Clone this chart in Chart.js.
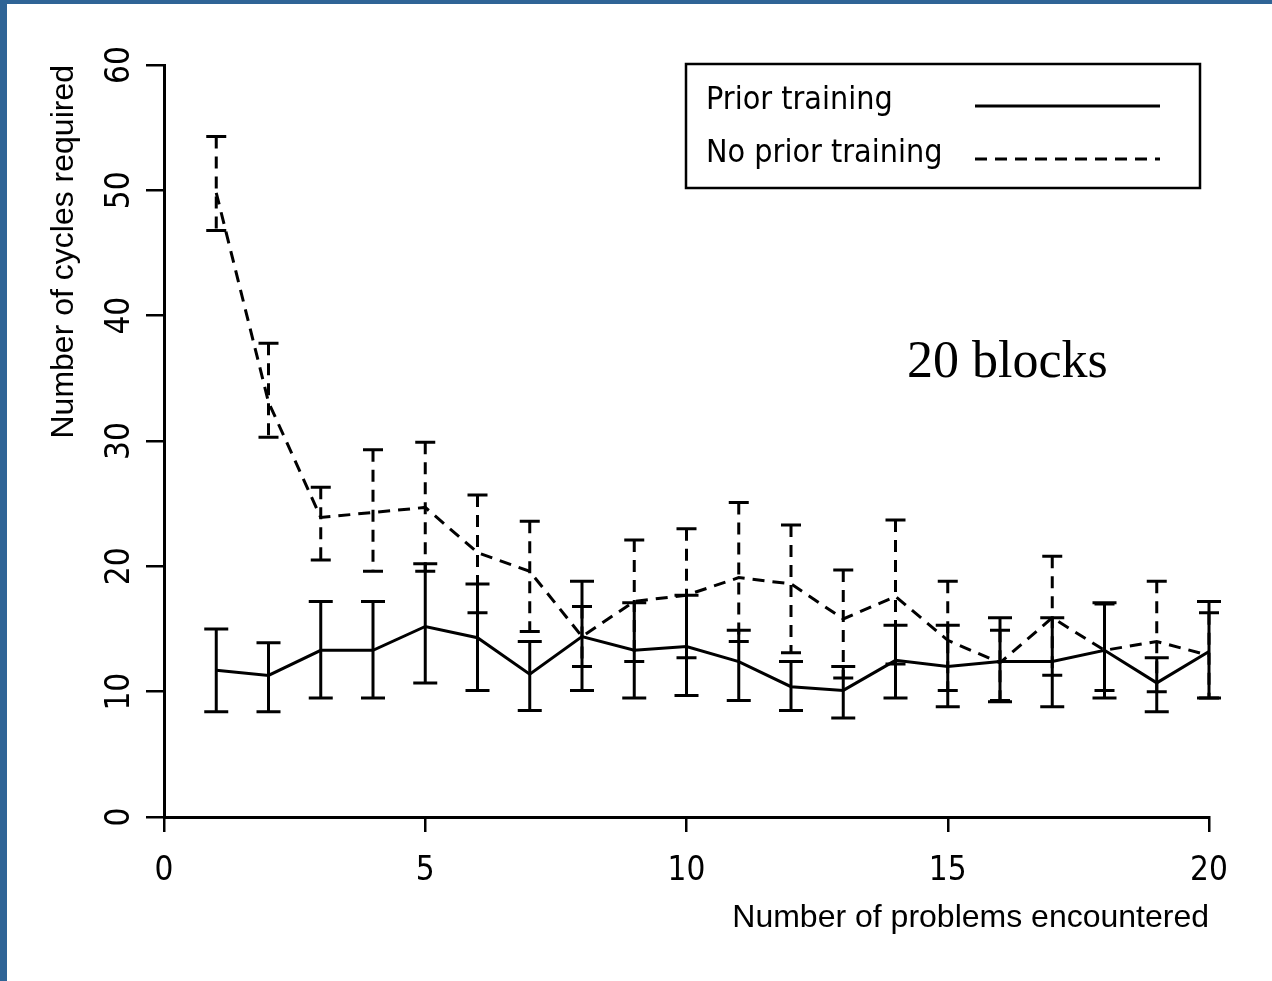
<!DOCTYPE html>
<html>
<head>
    <title>Number of cycles required</title>
    <script src="https://cdn.jsdelivr.net/npm/chart.js"></script>
    <style>
        html, body {
            margin: 0;
            padding: 0;
            background: #fff;
        }
        #chart-container {
            position: absolute;
            left: 0;
            top: 0;
            width: 1272px;
            height: 981px;
        }
        /* blue frame on the left and top edge */
        #frame {
            position: fixed;
            left: 0;
            top: 0;
            width: 1272px;
            height: 981px;
            box-sizing: border-box;
            border-left: 7px solid #2f6496;
            border-top: 4px solid #2f6496;
            pointer-events: none;
        }
    </style>
</head>
<body>
    <div id="chart-container">
        <canvas id="myChart"></canvas>
    </div>
    <div id="frame"></div>

    <script>
        // Number of problems encountered
        const problems = [1, 2, 3, 4, 5, 6, 7, 8, 9, 10, 11, 12, 13, 14, 15, 16, 17, 18, 19, 20];

        // Prior training: mean and error bar ends
        const priorMean = [11.7, 11.3, 13.3, 13.3, 15.2, 14.3, 11.4, 14.4, 13.3, 13.6, 12.4, 10.4, 10.1, 12.5, 12.0, 12.4, 12.4, 13.3, 10.7, 13.2];
        const priorLow  = [8.4, 8.4, 9.5, 9.5, 10.7, 10.1, 8.5, 10.1, 9.5, 9.7, 9.3, 8.5, 7.9, 9.5, 8.8, 9.2, 8.8, 9.5, 8.4, 9.5];
        const priorHigh = [15.0, 13.9, 17.2, 17.2, 20.2, 18.6, 14.0, 18.8, 17.1, 17.7, 14.9, 12.4, 12.0, 15.3, 15.3, 15.9, 15.9, 17.1, 12.7, 17.2];

        // No prior training: mean and error bar ends
        const noPriorMean = [49.8, 33.1, 23.9, 24.3, 24.7, 21.1, 19.6, 14.4, 17.2, 17.7, 19.1, 18.6, 15.8, 17.6, 14.1, 12.3, 15.9, 13.3, 14.0, 12.9];
        const noPriorLow  = [46.8, 30.3, 20.5, 19.6, 19.6, 16.3, 14.8, 12.0, 12.4, 12.7, 14.0, 13.1, 11.1, 12.2, 10.1, 9.3, 11.3, 10.1, 10.0, 9.5];
        const noPriorHigh = [54.3, 37.8, 26.3, 29.3, 29.9, 25.7, 23.6, 16.8, 22.1, 23.0, 25.1, 23.3, 19.7, 23.7, 18.8, 14.9, 20.8, 17.0, 18.8, 16.3];

        // Axis ticks
        const xTickValues = [0, 5, 10, 15, 20];
        const yTickValues = [0, 10, 20, 30, 40, 50, 60];

        const seriesNames = ['Prior training', 'No prior training'];
        const noteText = '20 blocks';

        const labelFont = "'Liberation Sans Narrow', 'DejaVu Sans Condensed', 'Liberation Sans', sans-serif";

        // Vertical error bars with caps, drawn from errLow / errHigh of each dataset
        const errorBars = {
            id: 'errorBars',
            afterDatasetsDraw(chart) {
                const { ctx, scales: { x, y } } = chart;
                chart.data.datasets.forEach((ds, i) => {
                    if (!chart.isDatasetVisible(i)) return;
                    ctx.save();
                    ctx.strokeStyle = ds.borderColor;
                    ctx.lineWidth = 3;
                    ds.data.forEach((pt, j) => {
                        const px = x.getPixelForValue(pt.x);
                        const top = y.getPixelForValue(ds.errHigh[j]);
                        const bot = y.getPixelForValue(ds.errLow[j]);
                        const half = ds.capHalf;
                        ctx.setLineDash(ds.borderDash || []);
                        ctx.beginPath();
                        ctx.moveTo(px, top);
                        ctx.lineTo(px, bot);
                        ctx.stroke();
                        ctx.setLineDash([]);
                        ctx.beginPath();
                        ctx.moveTo(px - half, top);
                        ctx.lineTo(px + half, top);
                        ctx.moveTo(px - half, bot);
                        ctx.lineTo(px + half, bot);
                        ctx.stroke();
                    });
                    ctx.restore();
                });
            }
        };

        // Rotated y tick labels, legend box and the note text
        const decorations = {
            id: 'decorations',
            afterDraw(chart) {
                const { ctx, scales: { y } } = chart;

                ctx.save();
                ctx.fillStyle = '#000';
                ctx.font = '33px ' + labelFont;
                ctx.textAlign = 'center';
                ctx.textBaseline = 'middle';
                y.ticks.forEach(t => {
                    const py = y.getPixelForValue(t.value);
                    ctx.save();
                    ctx.translate(y.right - 44, py);
                    ctx.rotate(-Math.PI / 2);
                    ctx.fillText(String(t.value), 0, 0);
                    ctx.restore();
                });
                ctx.restore();

                // legend
                ctx.save();
                ctx.strokeStyle = '#000';
                ctx.lineWidth = 2.5;
                ctx.strokeRect(686, 64, 514, 124);
                ctx.font = '32px ' + labelFont;
                ctx.fillStyle = '#000';
                ctx.textAlign = 'left';
                ctx.textBaseline = 'middle';
                const rows = [101, 154];
                chart.data.datasets.forEach((ds, i) => {
                    const ry = rows[i];
                    ctx.fillText(ds.label, 706, ry);
                    ctx.setLineDash(ds.borderDash || []);
                    ctx.lineWidth = ds.borderWidth;
                    ctx.beginPath();
                    ctx.moveTo(975, ry + 5);
                    ctx.lineTo(1160, ry + 5);
                    ctx.stroke();
                    ctx.setLineDash([]);
                });
                ctx.restore();

                // note
                ctx.save();
                ctx.fillStyle = '#000';
                ctx.font = "52px 'Liberation Serif', 'Times New Roman', serif";
                ctx.textAlign = 'left';
                ctx.textBaseline = 'alphabetic';
                ctx.fillText(noteText, 907, 377);
                ctx.restore();
            }
        };

        function renderChart() {
            const ctx = document.getElementById('myChart').getContext('2d');

            new Chart(ctx, {
                type: 'line',
                data: {
                    datasets: [
                        {
                            label: seriesNames[0],
                            data: problems.map((p, i) => ({ x: p, y: priorMean[i] })),
                            errLow: priorLow,
                            errHigh: priorHigh,
                            capHalf: 12,
                            borderColor: '#000',
                            borderWidth: 3,
                            pointRadius: 0,
                            tension: 0,
                            fill: false
                        },
                        {
                            label: seriesNames[1],
                            data: problems.map((p, i) => ({ x: p, y: noPriorMean[i] })),
                            errLow: noPriorLow,
                            errHigh: noPriorHigh,
                            capHalf: 10,
                            borderColor: '#000',
                            borderWidth: 3,
                            borderDash: [12, 8],
                            pointRadius: 0,
                            tension: 0,
                            fill: false
                        }
                    ]
                },
                options: {
                    responsive: true,
                    maintainAspectRatio: false,
                    animation: false,
                    layout: {
                        padding: { left: 0, top: 65, right: 63, bottom: 0 }
                    },
                    plugins: {
                        legend: { display: false },
                        tooltip: { enabled: false }
                    },
                    scales: {
                        x: {
                            type: 'linear',
                            min: 0,
                            max: 20,
                            afterBuildTicks: s => { s.ticks = xTickValues.map(v => ({ value: v })); },
                            afterFit: s => { s.height = 164; },
                            grid: {
                                drawOnChartArea: false,
                                drawTicks: true,
                                tickLength: 15,
                                color: '#000',
                                lineWidth: 2.5
                            },
                            border: { display: true, color: '#000', width: 3 },
                            ticks: {
                                color: '#000',
                                padding: 20,
                                maxRotation: 0,
                                font: { family: labelFont, size: 33 }
                            },
                            title: {
                                display: true,
                                text: 'Number of problems encountered',
                                align: 'end',
                                color: '#000',
                                font: { family: "'Liberation Sans', sans-serif", size: 32 },
                                padding: { top: 0, bottom: 44 }
                            }
                        },
                        y: {
                            type: 'linear',
                            min: 0,
                            max: 60,
                            afterBuildTicks: s => { s.ticks = yTickValues.map(v => ({ value: v })); },
                            afterFit: s => { s.width = 164; },
                            grid: {
                                drawOnChartArea: false,
                                drawTicks: true,
                                tickLength: 18,
                                color: '#000',
                                lineWidth: 2.5
                            },
                            border: { display: true, color: '#000', width: 3 },
                            ticks: { display: false },
                            title: {
                                display: true,
                                text: 'Number of cycles required',
                                align: 'end',
                                color: '#000',
                                font: { family: "'Liberation Sans', sans-serif", size: 32 },
                                padding: { top: 45, bottom: 0 }
                            }
                        }
                    }
                },
                plugins: [errorBars, decorations]
            });
        }

        window.addEventListener('DOMContentLoaded', renderChart);
    </script>
</body>
</html>
